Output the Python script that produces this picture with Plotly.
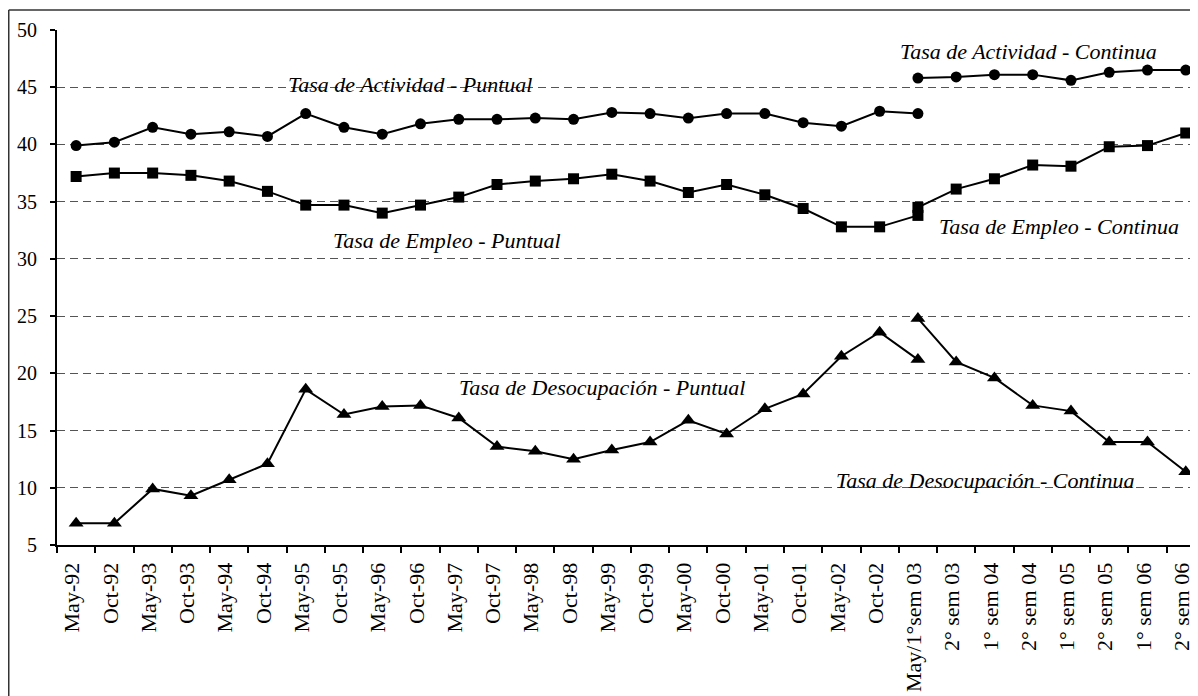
import plotly.graph_objects as go

categories = ["May-92", "Oct-92", "May-93", "Oct-93", "May-94", "Oct-94", "May-95", "Oct-95",
              "May-96", "Oct-96", "May-97", "Oct-97", "May-98", "Oct-98", "May-99", "Oct-99",
              "May-00", "Oct-00", "May-01", "Oct-01", "May-02", "Oct-02", "May/1°sem 03",
              "2° sem 03", "1° sem 04", "2° sem 04", "1° sem 05", "2° sem 05", "1° sem 06", "2° sem 06"]

puntual_x = categories[:23]
continua_x = categories[22:]

actividad_puntual = [39.9, 40.2, 41.5, 40.9, 41.1, 40.7, 42.7, 41.5, 40.9, 41.8, 42.2, 42.2, 42.3, 42.2,
                     42.8, 42.7, 42.3, 42.7, 42.7, 41.9, 41.6, 42.9, 42.7]
actividad_continua = [45.8, 45.9, 46.1, 46.1, 45.6, 46.3, 46.5, 46.5]

empleo_puntual = [37.2, 37.5, 37.5, 37.3, 36.8, 35.9, 34.7, 34.7, 34.0, 34.7, 35.4, 36.5, 36.8, 37.0,
                  37.4, 36.8, 35.8, 36.5, 35.6, 34.4, 32.8, 32.8, 33.8]
empleo_continua = [34.5, 36.1, 37.0, 38.2, 38.1, 39.8, 39.9, 41.0]

desocupacion_puntual = [6.9, 6.9, 9.9, 9.3, 10.7, 12.1, 18.6, 16.4, 17.1, 17.2, 16.1, 13.6, 13.2, 12.5,
                        13.3, 14.0, 15.9, 14.7, 16.9, 18.2, 21.5, 23.6, 21.2]
desocupacion_continua = [24.8, 21.0, 19.6, 17.2, 16.7, 14.0, 14.0, 11.4]

labels = [
    ("Tasa de Actividad - Puntual", 8.73, 45.2),
    ("Tasa de Actividad - Continua", 24.9, 48.1),
    ("Tasa de Empleo - Puntual", 9.7, 31.6),
    ("Tasa de Empleo - Continua", 25.7, 32.8),
    ("Tasa de Desocupación - Puntual", 13.75, 18.75),
    ("Tasa de Desocupación - Continua", 23.76, 10.6),
]

fig = go.Figure()

def add(x, y, symbol, size):
    fig.add_trace(go.Scatter(
        x=x, y=y, mode="lines+markers",
        line=dict(color="black", width=2),
        marker=dict(symbol=symbol, size=size, color="black"),
        cliponaxis=False, showlegend=False, hoverinfo="x+y"))

add(puntual_x, actividad_puntual, "circle", 11)
add(continua_x, actividad_continua, "circle", 11)
add(puntual_x, empleo_puntual, "square", 11)
add(continua_x, empleo_continua, "square", 11)
add(puntual_x, desocupacion_puntual, "triangle-up", 13)
add(continua_x, desocupacion_continua, "triangle-up", 13)

for text, xi, yv in labels:
    fig.add_annotation(x=xi, y=yv, xref="x", yref="y", text=text, showarrow=False,
                       font=dict(family="Liberation Serif", size=22, color="black", style="italic"),
                       xanchor="center", yanchor="middle")

# outer chart border (left and top edges visible)
bx = (0.75 - 49) / 1141
by = 1 + 20 / 515
fig.add_shape(type="line", xref="paper", yref="paper", x0=bx, x1=bx, y0=by, y1=-0.5,
              line=dict(color="#333", width=1.5))
fig.add_shape(type="line", xref="paper", yref="paper", x0=bx, x1=1.2, y0=by, y1=by,
              line=dict(color="#333", width=1.5))

fig.update_layout(
    width=1190, height=688,
    margin=dict(l=49, r=0, t=22, b=151),
    paper_bgcolor="white", plot_bgcolor="white",
    font=dict(family="Liberation Serif", color="black"),
)
fig.update_xaxes(
    type="category", categoryorder="array", categoryarray=categories,
    range=[-0.5, 29.32], tickangle=-90, tickson="boundaries",
    ticks="outside", ticklen=6, tickcolor="black", tickwidth=1.5,
    showline=True, linecolor="black", linewidth=2, showgrid=False,
    ticklabelstandoff=7, ticklabelshift=-4,
    tickfont=dict(family="Liberation Serif", size=22, color="black"),
)
fig.update_yaxes(
    range=[5, 50], tickmode="linear", tick0=5, dtick=5,
    ticks="outside", ticklen=5, tickcolor="black", tickwidth=1.5,
    showline=True, linecolor="black", linewidth=2,
    showgrid=True, gridcolor="#555", gridwidth=1, griddash="8px,5px",
    zeroline=False, ticklabelstandoff=9,
    tickfont=dict(family="Liberation Serif", size=20, color="black"),
)

fig.write_html("out.html")
